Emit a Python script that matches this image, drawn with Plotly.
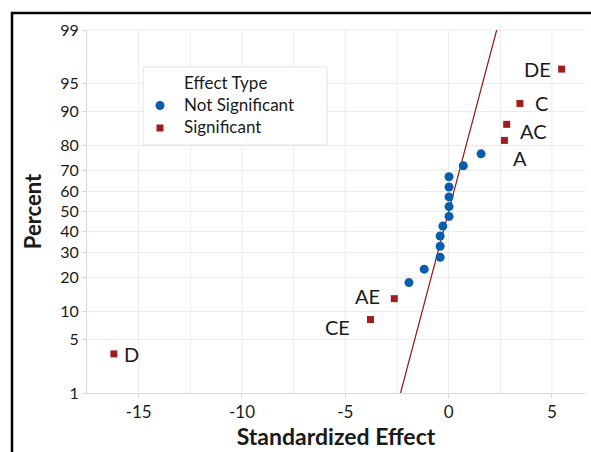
import plotly.graph_objects as go
from statistics import NormalDist

nd = NormalDist()

# Not significant effects
ns_effect = [-1.92, -1.18, -0.41, -0.41, -0.41, -0.28, 0.02, 0.02, 0.02, 0.02, 0.02, 0.71, 1.57]
ns_percent = [18.1, 23.0, 27.9, 32.8, 37.7, 42.6, 47.5, 52.5, 57.4, 62.3, 67.2, 72.1, 77.0]

# Significant effects
sig_terms = ["D", "CE", "AE", "A", "AC", "C", "DE"]
sig_effect = [-16.2, -3.78, -2.63, 2.70, 2.81, 3.45, 5.47]
sig_percent = [3.4, 8.3, 13.2, 81.9, 86.8, 91.7, 96.6]

# label placement (style): anchor side, pixel shifts
lab_anchor = ["left", "right", "right", "left", "left", "left", "right"]
lab_dx = [8, -19, -12, 7, 11, 13, -9]
lab_dy = [0, -7, 3, -18, -7, 0, 0]

# Reference line
line_effect = [-2.326, 2.326]
line_percent = [1, 99]

y_ticks = [1, 5, 10, 20, 30, 40, 50, 60, 70, 80, 90, 95, 99]
x_ticks = [-15, -10, -5, 0, 5]

legend_title = "Effect Type"
legend_names = ["Not Significant", "Significant"]

def z(p):
    return [nd.inv_cdf(v / 100.0) for v in p]

FONT = "Lato"
BLUE = "#0a5cad"
RED = "#a11d1d"
TXT = "#1a1a1a"

# plot-area pixel geometry (for legend placement)
L, R, T, B = 87, 585, 30, 393
def px(xp):
    return (xp - L) / (R - L)
def py(yp):
    return (B - yp) / (B - T)

fig = go.Figure()
fig.add_trace(go.Scatter(
    x=line_effect, y=z(line_percent), mode="lines",
    line=dict(color="#8e1a1a", width=1.2), showlegend=False, hoverinfo="skip"))
fig.add_trace(go.Scatter(
    x=ns_effect, y=z(ns_percent), mode="markers", name=legend_names[0],
    marker=dict(symbol="circle", size=9, color=BLUE)))
fig.add_trace(go.Scatter(
    x=sig_effect, y=z(sig_percent), mode="markers", name=legend_names[1],
    marker=dict(symbol="square", size=7, color=RED)))

for t, xv, yv, a, dx, dy in zip(sig_terms, sig_effect, z(sig_percent), lab_anchor, lab_dx, lab_dy):
    fig.add_annotation(x=xv, y=yv, text=t, showarrow=False, xanchor=a, yanchor="middle",
                       xshift=dx, yshift=dy, font=dict(family=FONT, size=20, color=TXT))

grid_c = "#ececec"
fig.update_layout(
    width=591, height=452,
    margin=dict(l=L, r=591 - R, t=T, b=452 - B),
    paper_bgcolor="white", plot_bgcolor="white",
    font=dict(family=FONT, size=16, color=TXT),
    showlegend=False,
    xaxis=dict(
        range=[-17.5, 6.6], tickvals=x_ticks, ticktext=[str(v) for v in x_ticks],
        showgrid=False, zeroline=False, showline=True, linecolor="#d8d8d8", linewidth=1,
        ticks="outside", ticklen=4, tickcolor="#d8d8d8",
        tickfont=dict(family=FONT, size=17, color=TXT),
        title=dict(text="<b>Standardized Effect</b>", font=dict(family=FONT, size=23, color=TXT), standoff=3),
    ),
    yaxis=dict(
        range=[nd.inv_cdf(0.01), nd.inv_cdf(0.99)],
        tickvals=z(y_ticks), ticktext=[str(v) for v in y_ticks],
        showgrid=True, gridcolor=grid_c, gridwidth=1, zeroline=False,
        showline=True, linecolor="#d8d8d8", linewidth=1,
        ticks="outside", ticklen=4, tickcolor="#d8d8d8",
        tickfont=dict(family=FONT, size=16, color=TXT),
        title=dict(text="<b>Percent</b>", font=dict(family=FONT, size=22, color=TXT), standoff=12),
    ),
)

# vertical gridlines every 2.5
for gx in [-17.5 + 2.5 * i for i in range(1, 10)]:
    fig.add_shape(type="line", xref="x", yref="paper", x0=gx, x1=gx, y0=0, y1=1,
                  line=dict(color=grid_c, width=1), layer="below")
# top border of plot area
fig.add_shape(type="line", xref="paper", yref="paper", x0=0, x1=1, y0=1, y1=1,
              line=dict(color=grid_c, width=1), layer="below")

# manual legend box
fig.add_shape(type="rect", xref="paper", yref="paper",
              x0=px(143), x1=px(327), y0=py(145), y1=py(67),
              line=dict(color="#e2e2e2", width=1), fillcolor="white")
fig.add_annotation(xref="paper", yref="paper", x=px(182), y=py(105),
                   text="<br>".join([legend_title] + legend_names),
                   showarrow=False, xanchor="left", yanchor="middle", align="left",
                   font=dict(family=FONT, size=17, color=TXT))
# legend swatches
fig.add_shape(type="circle", xref="paper", yref="paper",
              x0=px(155.5), x1=px(164.5), y0=py(110), y1=py(101),
              line=dict(width=0), fillcolor=BLUE)
fig.add_shape(type="rect", xref="paper", yref="paper",
              x0=px(156.5), x1=px(163.5), y0=py(131.5), y1=py(124.5),
              line=dict(width=0), fillcolor=RED)

# outer black frame (left and top)
fig.add_shape(type="rect", xref="paper", yref="paper",
              x0=px(12), x1=1.2, y0=-0.3, y1=py(13),
              line=dict(color="black", width=2.5), fillcolor="rgba(0,0,0,0)")

fig.write_html("out.html")
